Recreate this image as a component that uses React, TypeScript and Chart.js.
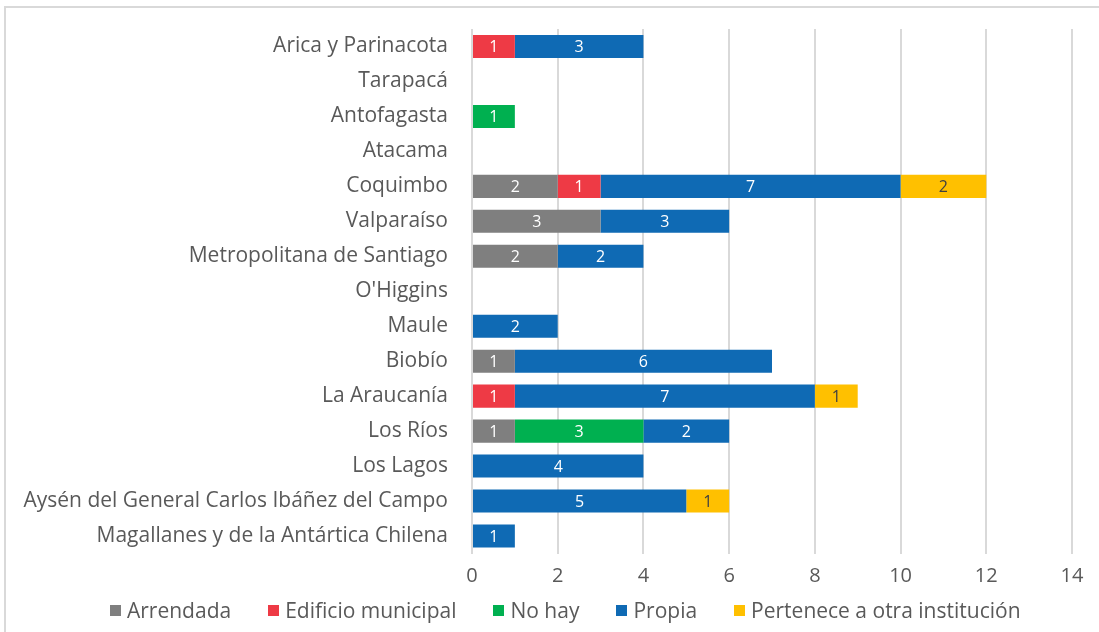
import React, { useEffect, useRef } from "react";
import { Chart, registerables } from "chart.js";

Chart.register(...registerables);

const categories = [
  "Arica y Parinacota",
  "Tarapacá",
  "Antofagasta",
  "Atacama",
  "Coquimbo",
  "Valparaíso",
  "Metropolitana de Santiago",
  "O'Higgins",
  "Maule",
  "Biobío",
  "La Araucanía",
  "Los Ríos",
  "Los Lagos",
  "Aysén del General Carlos Ibáñez del Campo",
  "Magallanes y de la Antártica Chilena",
];

const arrendada = [null, null, null, null, 2, 3, 2, null, null, 1, null, 1, null, null, null];
const edificioMunicipal = [1, null, null, null, 1, null, null, null, null, null, 1, null, null, null, null];
const noHay = [null, null, 1, null, null, null, null, null, null, null, null, 3, null, null, null];
const propia = [3, null, null, null, 7, 3, 2, null, 2, 6, 7, 2, 4, 5, 1];
const perteneceOtra = [null, null, null, null, 2, null, null, null, null, null, 1, null, null, 1, null];

const xTicks = [0, 2, 4, 6, 8, 10, 12, 14];

const seriesNames = ["Arrendada", "Edificio municipal", "No hay", "Propia", "Pertenece a otra institución"];
const seriesColors = ["#7f7f7f", "#ee3a45", "#00b050", "#0f6ab4", "#ffc000"];
const labelColors = ["#ffffff", "#ffffff", "#ffffff", "#ffffff", "#404040"];

const FONT = "'Open Sans', Lato, sans-serif";

const dataLabels = {
  id: "dataLabels",
  afterDatasetsDraw(chart: any) {
    const ctx = chart.ctx;
    ctx.save();
    ctx.font = `16px ${FONT}`;
    ctx.textAlign = "center";
    ctx.textBaseline = "middle";
    chart.data.datasets.forEach((ds: any, di: number) => {
      const meta = chart.getDatasetMeta(di);
      meta.data.forEach((bar: any, i: number) => {
        const v = ds.data[i];
        if (v == null || v === 0) return;
        const p = bar.getProps(["x", "y", "base"], true);
        ctx.fillStyle = labelColors[di];
        ctx.fillText(String(v), (p.x + p.base) / 2, p.y + 1);
      });
    });
    ctx.restore();
  },
};

export default function App() {
  const ref = useRef<HTMLCanvasElement>(null);
  useEffect(() => {
    if (!ref.current) return;
    const allData = [arrendada, edificioMunicipal, noHay, propia, perteneceOtra];
    const chart = new Chart(ref.current, {
      type: "bar",
      data: {
        labels: categories,
        datasets: allData.map((d, i) => ({
          label: seriesNames[i],
          data: d,
          backgroundColor: seriesColors[i],
          borderWidth: 0,
          barPercentage: 0.66,
          categoryPercentage: 1,
        })),
      },
      options: {
        indexAxis: "y",
        animation: false,
        responsive: false,
        maintainAspectRatio: false,
        layout: { padding: { top: 29, right: 27, bottom: 38.5, left: 0 } },
        plugins: {
          legend: { display: false },
          tooltip: { enabled: false },
          title: { display: false },
        },
        scales: {
          x: {
            stacked: true,
            min: 0,
            max: 14,
            afterBuildTicks: (s: any) => {
              s.ticks = xTicks.map((v) => ({ value: v }));
            },
            afterFit: (s: any) => {
              s.height = 40;
            },
            grid: { color: "#d9d9d9", lineWidth: 2, drawTicks: false },
            border: { display: false },
            ticks: { color: "#595959", font: { family: FONT, size: 20 }, padding: 11 },
          },
          y: {
            stacked: true,
            afterFit: (s: any) => {
              s.width = 472;
              s.paddingTop = 0;
              s.paddingBottom = 0;
            },
            grid: { display: false, drawTicks: false },
            border: { display: false },
            ticks: { color: "#595959", font: { family: FONT, size: 21 }, padding: 24, autoSkip: false },
          },
        },
      },
      plugins: [dataLabels],
    });
    return () => chart.destroy();
  }, []);

  return (
    <div style={{ position: "fixed", left: 0, top: 0, width: 1099, height: 632, overflow: "hidden", background: "#fff" }}>
      <div
        style={{
          position: "absolute",
          left: 4,
          top: 6,
          width: 1200,
          height: 700,
          border: "2px solid #d9d9d9",
        }}
      />
      <canvas ref={ref} width={1099} height={632} style={{ position: "absolute", left: 0, top: 0 }} />
      <div
        style={{
          position: "absolute",
          left: 110,
          top: 596,
          display: "flex",
          alignItems: "center",
          fontFamily: FONT,
          fontSize: 21,
          color: "#595959",
          whiteSpace: "nowrap",
        }}
      >
        {seriesNames.map((n, i) => (
          <span key={n} style={{ display: "flex", alignItems: "center", marginRight: 37 }}>
            <span style={{ display: "inline-block", width: 11, height: 11, background: seriesColors[i], marginRight: 6 }} />
            <span>{n}</span>
          </span>
        ))}
      </div>
    </div>
  );
}
